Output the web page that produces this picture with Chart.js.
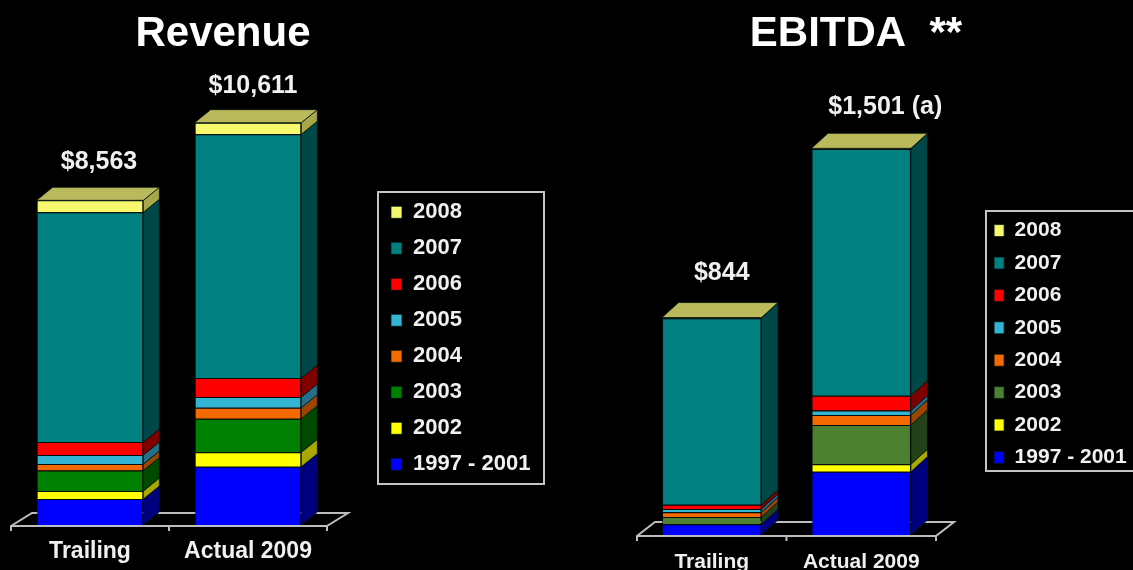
<!DOCTYPE html>
<html><head><meta charset="utf-8">
<style>html,body{margin:0;padding:0;background:#000;overflow:hidden}
canvas{position:absolute;top:0;filter:blur(0.6px)}
#wrapL{position:absolute;left:0;top:0;width:566px;height:570px}
#wrapR{position:absolute;left:566px;top:0;width:567px;height:570px}</style>
<script src="https://cdn.jsdelivr.net/npm/chart.js@4"></script>
</head><body>
<div id="wrapL"><canvas id="revenue"></canvas></div>
<div id="wrapR"><canvas id="ebitda"></canvas></div>
<script>
const categories = ['Trailing', 'Actual 2009'];
const seriesNames = ['1997 - 2001', '2002', '2003', '2004', '2005', '2006', '2007', '2008'];

const revenue1997 = [685, 1538];
const revenue2002 = [211, 380];
const revenue2003 = [540, 886];
const revenue2004 = [171, 290];
const revenue2005 = [237, 282];
const revenue2006 = [343, 501];
const revenue2007 = [6060, 6428];
const revenue2008 = [316, 306];
const revenueTotals = ['$8,563', '$10,611'];

const ebitda1997 = [42, 246];
const ebitda2002 = [0, 29];
const ebitda2003 = [28, 152];
const ebitda2004 = [18, 39];
const ebitda2005 = [13, 17];
const ebitda2006 = [16, 58];
const ebitda2007 = [724, 957];
const ebitda2008 = [3, 3];
const ebitdaTotals = ['$844', '$1,501 (a)'];

const revenueColors = ['#0000ff','#ffff00','#008000','#f56a00','#33b4d2','#ff0000','#008080','#f8f86e'];
const revenueSides  = ['#00007f','#a8a800','#004a00','#9a4600','#24708a','#800000','#004848','#a8a84a'];
const ebitdaColors  = ['#0000ff','#ffff00','#4d8030','#f56a00','#33b4d2','#ff0000','#008080','#f8f86e'];
const ebitdaSides   = ['#00007f','#a8a800','#24421a','#9a4600','#24708a','#800000','#004848','#a8a84a'];
const topColor = '#bab95c';
const ink = '#f0f0f0';
const edge = 'rgba(0,20,20,0.75)';
const FONT = '"Liberation Sans", Arial, sans-serif';

const cube = {
  id: 'cube',
  beforeDraw(chart, _a, o) {
    const l = chart.legend, t = chart.titleBlock;
    l.left = o.legendX; l.top = o.legendY; l.right = o.legendX + 300; l.bottom = o.legendY + 320;
    t.left = o.titleX - 200; t.right = o.titleX + 200;
    const c = chart.ctx;
    c.save();
    c.strokeStyle = '#c4c4c4'; c.lineWidth = 2;
    c.strokeRect(o.boxL, o.boxT, o.boxW, o.boxH);
    c.restore();
  },
  beforeDatasetsDraw(chart, _a, o) {
    const c = chart.ctx, {left, right} = chart.chartArea;
    const y = chart.scales.y.getPixelForValue(0) + 1;
    c.save();
    c.strokeStyle = '#bdbdbd'; c.lineWidth = 2;
    c.beginPath();
    c.moveTo(left, y + 5); c.lineTo(left, y);
    c.lineTo(left + o.floorDx, y - o.floorDy);
    c.lineTo(right + o.floorDx, y - o.floorDy);
    c.lineTo(right, y); c.lineTo(right, y + 5);
    c.moveTo(left, y); c.lineTo(right, y);
    const mid = (left + right) / 2;
    c.moveTo(mid, y); c.lineTo(mid, y + 5);
    c.stroke();
    c.restore();
  },
  afterDatasetsDraw(chart, _a, o) {
    const c = chart.ctx, dx = o.dx, dy = o.dy;
    const n = chart.data.labels.length;
    c.save();
    c.lineWidth = 1; c.strokeStyle = edge;
    for (let i = 0; i < n; i++) {
      let top = null;
      chart.data.datasets.forEach((ds, k) => {
        const b = chart.getDatasetMeta(k).data[i];
        if (!ds.data[i]) return;
        const r = b.x + b.width / 2;
        c.fillStyle = o.sides[k];
        c.beginPath();
        c.moveTo(r, b.y); c.lineTo(r + dx, b.y - dy);
        c.lineTo(r + dx, b.base - dy); c.lineTo(r, b.base); c.closePath();
        c.fill(); c.stroke();
        top = b;
      });
      const l = top.x - top.width / 2, r = top.x + top.width / 2;
      c.fillStyle = topColor;
      c.beginPath();
      c.moveTo(l, top.y); c.lineTo(l + dx, top.y - dy);
      c.lineTo(r + dx, top.y - dy); c.lineTo(r, top.y); c.closePath();
      c.fill(); c.stroke();
      c.fillStyle = ink;
      c.font = 'bold 25px ' + FONT;
      c.textAlign = 'center'; c.textBaseline = 'middle';
      c.fillText(o.totals[i], top.x + o.labelDx[i], top.y - o.labelDy[i]);
    }
    c.restore();
  }
};

function build(id, title, sets, colors, o) {
  return new Chart(document.getElementById(id), {
    type: 'bar',
    data: {
      labels: categories,
      datasets: sets.map((d, k) => ({
        label: seriesNames[k], data: d, backgroundColor: colors[k],
        borderColor: edge, borderWidth: 1, stack: 's'
      }))
    },
    options: {
      responsive: true, maintainAspectRatio: false, animation: false,
      layout: { padding: { left: o.padL, right: o.padR, top: 0, bottom: 0 } },
      datasets: { bar: { barPercentage: o.barPct, categoryPercentage: 1 } },
      scales: {
        x: { stacked: true, grid: { display: false, drawTicks: false }, border: { display: false },
             afterFit: s => { s.height = o.axisH; },
             ticks: { color: ink, padding: o.tickPad, maxRotation: 0, font: { family: FONT, size: o.tickSize, weight: 'bold' } } },
        y: { stacked: true, display: false, min: 0, max: o.yMax }
      },
      plugins: {
        title: { display: true, text: title, color: '#ffffff', position: 'top',
                 font: { family: FONT, size: 42, weight: 'bold', lineHeight: 1 },
                 padding: { top: 13, bottom: 15 } },
        legend: {
          position: 'chartArea', align: 'start', reverse: true,
          labels: { color: ink, boxWidth: o.legendBox, boxHeight: 12, padding: o.legendPad,
                    font: { family: FONT, size: o.legendSize, weight: 'bold' } }
        },
        tooltip: { enabled: false },
        cube: o
      }
    },
    plugins: [cube]
  });
}

build('revenue', 'Revenue',
  [revenue1997, revenue2002, revenue2003, revenue2004, revenue2005, revenue2006, revenue2007, revenue2008],
  revenueColors, {
    padL: 11, padR: 239, axisH: 45, tickPad: 13, tickSize: 23, yMax: 12000, barPct: 0.675,
    dx: 16, dy: 13, floorDx: 21, floorDy: 13, sides: revenueSides, totals: revenueTotals,
    labelDx: [9, 5], labelDy: [38, 37],
    titleX: 223, legendX: 377, legendY: 187.3, legendBox: 11, legendPad: 14, legendSize: 22,
    boxL: 378, boxT: 192, boxW: 166, boxH: 292
  });

build('ebitda', 'EBITDA  **',
  [ebitda1997, ebitda2002, ebitda2003, ebitda2004, ebitda2005, ebitda2006, ebitda2007, ebitda2008],
  ebitdaColors, {
    padL: 71, padR: 197, axisH: 35, tickPad: 15, tickSize: 21, yMax: 1805, barPct: 0.665,
    dx: 16.5, dy: 15, floorDx: 18, floorDy: 14, sides: ebitdaSides, totals: ebitdaTotals,
    labelDx: [10, 24], labelDy: [44, 41],
    titleX: 290, legendX: 416.7, legendY: 208.7, legendBox: 10, legendPad: 11.4, legendSize: 21,
    boxL: 420, boxT: 211, boxW: 160, boxH: 260
  });
</script>
</body></html>
